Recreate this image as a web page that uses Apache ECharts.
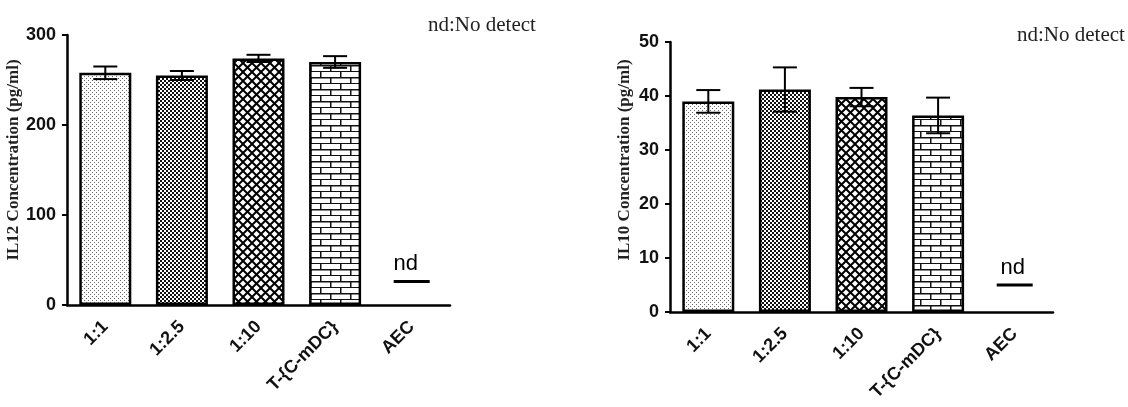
<!DOCTYPE html>
<html>
<head>
<meta charset="utf-8">
<script src="https://cdn.jsdelivr.net/npm/echarts@6/dist/echarts.min.js"></script>
<style>
  html, body { margin: 0; padding: 0; background: #fff; }
  #main { width: 1128px; height: 407px; }
</style>
</head>
<body>
<div id="main"></div>
<script>
// 数据
var categories = ['1:1', '1:2.5', '1:10', 'T-{C-mDC}', 'AEC'];
var il12Mean = [258, 255, 274, 270, '-'];
var il12Err = [7, 5, 4, 6.5, 0];
var il12Nd = ['-', '-', '-', '-', 26];
var il10Mean = [39, 41.2, 39.8, 36.4, '-'];
var il10Err = [2.1, 4.1, 1.7, 3.3, 0];
var il10Nd = ['-', '-', '-', '-', 5];
var il12Ticks = {min: 0, max: 300, interval: 100};
var il10Ticks = {min: 0, max: 50, interval: 10};

// 填充图案
function makePattern(w, h, draw) {
    var c = document.createElement('canvas');
    c.width = w;
    c.height = h;
    var ctx = c.getContext('2d');
    ctx.fillStyle = '#fff';
    ctx.fillRect(0, 0, w, h);
    draw(ctx);
    return {image: c, repeat: 'repeat'};
}
var patDots = makePattern(4, 4, function (ctx) {
    ctx.fillStyle = '#666';
    ctx.fillRect(0, 0, 1, 1);
    ctx.fillRect(2, 2, 1, 1);
});
var patChecker = makePattern(4, 4, function (ctx) {
    ctx.fillStyle = '#111';
    ctx.fillRect(0, 0, 2, 2);
    ctx.fillRect(2, 2, 2, 2);
});
var patDiamond = makePattern(9, 9, function (ctx) {
    ctx.strokeStyle = '#000';
    ctx.lineWidth = 2;
    ctx.beginPath();
    ctx.moveTo(-1, -1); ctx.lineTo(10, 10);
    ctx.moveTo(10, -1); ctx.lineTo(-1, 10);
    ctx.stroke();
});
var patBrick = makePattern(20, 12, function (ctx) {
    ctx.fillStyle = '#111';
    ctx.fillRect(0, 5, 20, 1.5);
    ctx.fillRect(0, 11, 20, 1.5);
    ctx.fillRect(0, 0, 1.5, 6);
    ctx.fillRect(10, 6, 1.5, 6);
});
var patterns = [patDots, patChecker, patDiamond, patBrick, '#fff'];

function barData(means) {
    return means.map(function (v, i) {
        return {value: v, itemStyle: {color: patterns[i]}};
    });
}

function errorData(means, errs) {
    var out = [];
    means.forEach(function (v, i) {
        if (v !== '-') out.push([i, v - errs[i], v + errs[i]]);
    });
    return out;
}

function renderError(params, api) {
    var x = api.value(0);
    var lo = api.coord([x, api.value(1)]);
    var hi = api.coord([x, api.value(2)]);
    var half = 12;
    var st = {stroke: '#000', lineWidth: 2};
    return {
        type: 'group',
        children: [
            {type: 'line', shape: {x1: hi[0], y1: hi[1], x2: lo[0], y2: lo[1]}, style: st},
            {type: 'line', shape: {x1: hi[0] - half, y1: hi[1], x2: hi[0] + half, y2: hi[1]}, style: st},
            {type: 'line', shape: {x1: lo[0] - half, y1: lo[1], x2: lo[0] + half, y2: lo[1]}, style: st}
        ]
    };
}

var axisLineStyle = {color: '#000', width: 2.5};
var tickLabelStyle = {color: '#111', fontSize: 18, fontWeight: 'bold', fontFamily: 'Liberation Sans'};

function xAxisOf(idx) {
    return {
        type: 'category',
        gridIndex: idx,
        data: categories,
        axisLine: {lineStyle: axisLineStyle},
        axisTick: {alignWithLabel: true, length: 7, lineStyle: {color: '#000', width: 2}},
        axisLabel: {rotate: 45, margin: 19, color: '#111', fontSize: 18, fontWeight: 'bold', fontFamily: 'Liberation Sans'}
    };
}
function yAxisOf(idx, ticks, name, shift) {
    return {
        type: 'value',
        gridIndex: idx,
        min: ticks.min,
        max: ticks.max,
        interval: ticks.interval,
        name: name,
        nameLocation: 'middle',
        nameGap: 37,
        nameTextStyle: {color: '#222', fontSize: 17, fontWeight: 'bold', fontFamily: 'Liberation Serif', padding: [0, 0, 0, shift]},
        axisLine: {show: true, lineStyle: axisLineStyle},
        axisTick: {show: true, length: 5, lineStyle: {color: '#000', width: 2}},
        axisLabel: {margin: 11, textStyle: tickLabelStyle},
        splitLine: {show: false}
    };
}

function ndSeries(idx, data, dx) {
    return {
        type: 'scatter',
        xAxisIndex: idx,
        yAxisIndex: idx,
        data: data,
        symbol: 'rect',
        symbolSize: [36, 3],
        itemStyle: {color: '#000', opacity: 1},
        label: {show: true, position: 'top', distance: 5, offset: [dx, 0], formatter: 'nd', color: '#000', fontSize: 22, fontFamily: 'Liberation Sans'},
        z: 5
    };
}

var chart = echarts.init(document.getElementById('main'));
var option = {
    animation: false,
    backgroundColor: '#fff',
    title: [
        {text: 'nd:No detect', left: 423, top: 10, textStyle: {color: '#222', fontSize: 21, fontWeight: 'normal', fontFamily: 'Liberation Serif'}},
        {text: 'nd:No detect', left: 1012, top: 20, textStyle: {color: '#222', fontSize: 21, fontWeight: 'normal', fontFamily: 'Liberation Serif'}}
    ],
    grid: [
        {left: 67, top: 35, width: 383, height: 270},
        {left: 670, top: 42, width: 383, height: 270}
    ],
    xAxis: [xAxisOf(0), xAxisOf(1)],
    yAxis: [
        yAxisOf(0, il12Ticks, 'IL12 Concentration (pg/ml)', 20),
        yAxisOf(1, il10Ticks, 'IL10 Concentration (pg/ml)', 34)
    ],
    series: [
        {
            type: 'bar', xAxisIndex: 0, yAxisIndex: 0, barWidth: 52,
            data: barData(il12Mean),
            itemStyle: {borderColor: '#000', borderWidth: 2.5}
        },
        {
            type: 'custom', xAxisIndex: 0, yAxisIndex: 0,
            data: errorData(il12Mean, il12Err), renderItem: renderError, z: 4
        },
        ndSeries(0, il12Nd, -6),
        {
            type: 'bar', xAxisIndex: 1, yAxisIndex: 1, barWidth: 52,
            data: barData(il10Mean),
            itemStyle: {borderColor: '#000', borderWidth: 2.5}
        },
        {
            type: 'custom', xAxisIndex: 1, yAxisIndex: 1,
            data: errorData(il10Mean, il10Err), renderItem: renderError, z: 4
        },
        ndSeries(1, il10Nd, -2)
    ]
};
chart.setOption(option);
</script>
</body>
</html>
